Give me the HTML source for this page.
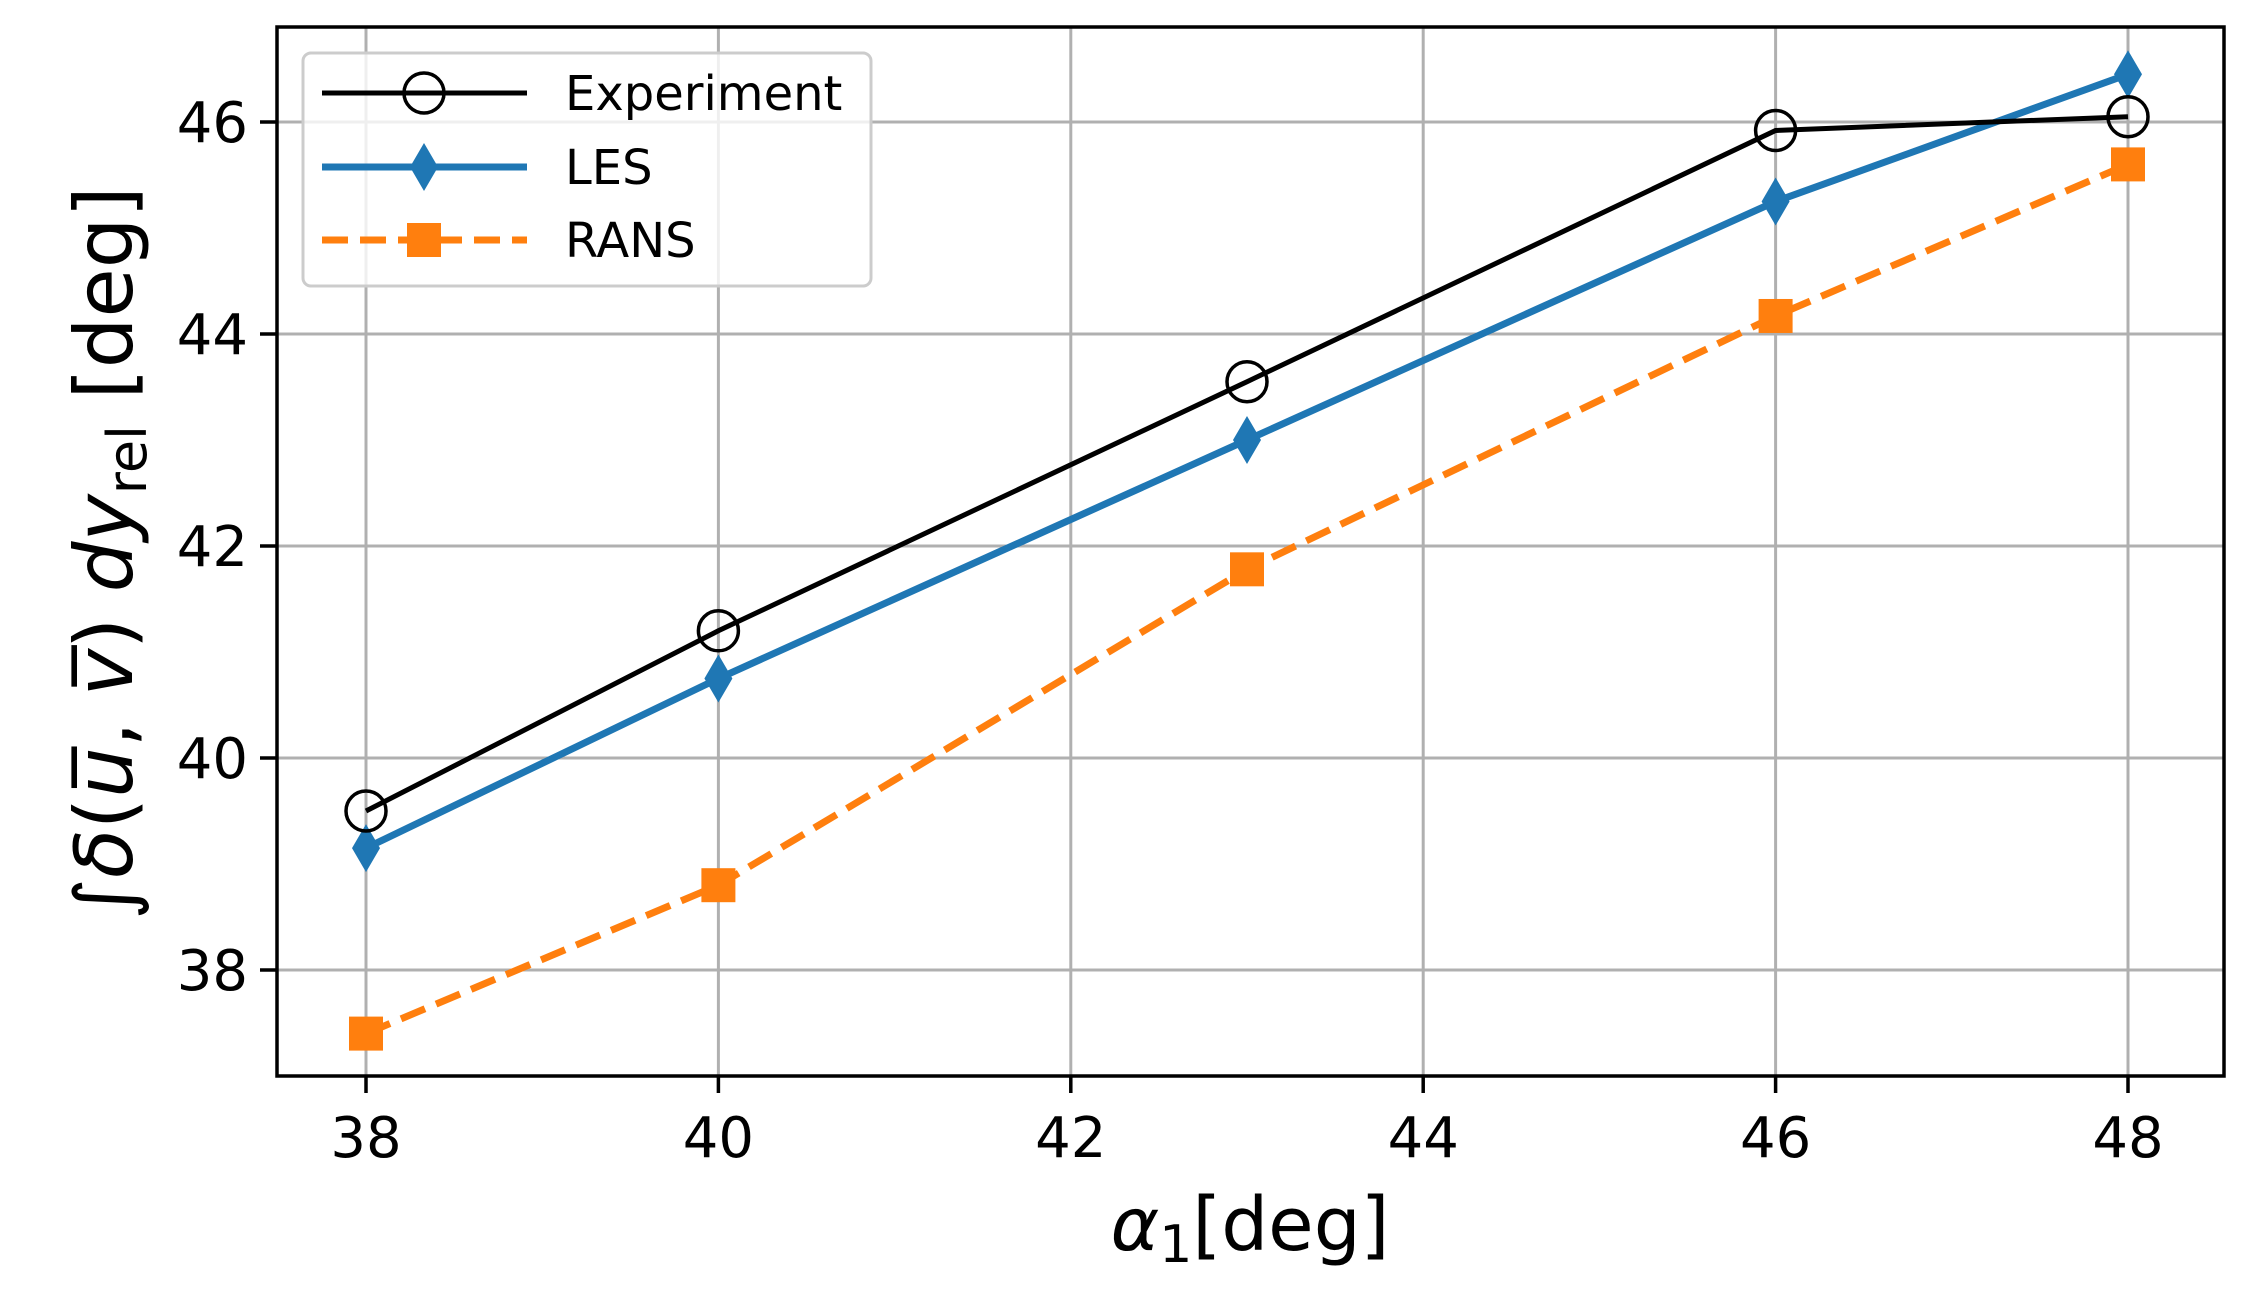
<!DOCTYPE html>
<html><head><meta charset="utf-8"><style>
html,body{margin:0;padding:0;background:#fff}
svg{display:block;font-family:"DejaVu Sans","Liberation Sans",sans-serif}
</style></head><body>
<svg id="chart" width="2242" height="1294" viewBox="0 0 2242 1294" xmlns="http://www.w3.org/2000/svg">
<g id="grid"></g>
<g id="series"></g>
<rect x="277" y="27" width="1947" height="1049" fill="none" stroke="#000" stroke-width="3.5"/>
<g id="ticks"></g>
<text x="1250" y="1250" font-size="74" text-anchor="middle"><tspan font-style="italic">α</tspan><tspan font-size="52" dy="12">1</tspan><tspan dy="-12">[deg]</tspan></text>
<text transform="translate(132,553) rotate(-90)" font-size="80" text-anchor="middle">∫<tspan font-style="italic">δ</tspan>(<tspan font-style="italic">u̅</tspan>, <tspan font-style="italic">v̅</tspan>) <tspan font-style="italic">dy</tspan><tspan font-size="54" dy="14">rel</tspan><tspan dy="-14">  [deg]</tspan></text>
<g>
<rect x="303" y="53" width="568" height="233" rx="8" fill="#fff" fill-opacity="0.8" stroke="#ccc" stroke-width="3"/>
<g>
<line x1="322" y1="93" x2="527" y2="93" stroke="#000" stroke-width="5"/>
<circle cx="424" cy="93" r="20" fill="none" stroke="#000" stroke-width="3.5"/>
<text x="565" y="110" font-size="48">Experiment</text></g>
<g>
<line x1="322" y1="167" x2="527" y2="167" stroke="#1f77b4" stroke-width="7"/>
<polygon points="424,143 438,167 424,191 410,167" fill="#1f77b4"/>
<text x="565" y="184" font-size="48">LES</text></g>
<g>
<line x1="322" y1="240" x2="527" y2="240" stroke="#ff7f0e" stroke-width="7" stroke-dasharray="26,12"/>
<rect x="407" y="223" width="34" height="34" fill="#ff7f0e"/>
<text x="565" y="257" font-size="48">RANS</text></g>
</g>
</svg>
<script>
const xValues=[38,40,43,46,48];
const experiment=[39.5,41.2,43.55,45.92,46.05];
const les=[39.15,40.75,43.0,45.25,46.45];
const rans=[37.4,38.8,41.78,44.17,45.6];
const xTicks=[38,40,42,44,46,48];
const yTicks=[38,40,42,44,46];
const NS='http://www.w3.org/2000/svg';
const sx=v=>366+(v-38)*176.2;
const sy=v=>970-(v-38)*106;
function mk(tag,attrs,parent){const e=document.createElementNS(NS,tag);for(const k in attrs)e.setAttribute(k,attrs[k]);parent.appendChild(e);return e;}
const grid=document.getElementById('grid'),ticks=document.getElementById('ticks'),ser=document.getElementById('series');
xTicks.forEach(t=>{
 const g=mk('line',{x1:sx(t),x2:sx(t),y1:27,y2:1076,stroke:'#b0b0b0','stroke-width':3},grid);
 
 
 const tk=mk('line',{x1:sx(t),x2:sx(t),y1:1076,y2:1093,stroke:'#000','stroke-width':3.5},ticks);
 
 
 const tl=mk('text',{x:sx(t),y:1157,'font-size':56,'text-anchor':'middle'},ticks);tl.textContent=t;
 
 
});
yTicks.forEach(t=>{
 const g=mk('line',{x1:277,x2:2224,y1:sy(t),y2:sy(t),stroke:'#b0b0b0','stroke-width':3},grid);
 
 
 const tk=mk('line',{x1:260,x2:277,y1:sy(t),y2:sy(t),stroke:'#000','stroke-width':3.5},ticks);
 
 
 const tl=mk('text',{x:248,y:sy(t)+20,'font-size':56,'text-anchor':'end'},ticks);tl.textContent=t;
 
 
});
function pts(arr){return arr.map((v,i)=>sx(xValues[i])+','+sy(v)).join(' ');}
let l=mk('polyline',{points:pts(rans),fill:'none',stroke:'#ff7f0e','stroke-width':7,'stroke-dasharray':'26,12'},ser);


rans.forEach((v,i)=>{const m=mk('rect',{x:sx(xValues[i])-17,y:sy(v)-17,width:34,height:34,fill:'#ff7f0e'},ser);
 
 });
l=mk('polyline',{points:pts(les),fill:'none',stroke:'#1f77b4','stroke-width':7},ser);


les.forEach((v,i)=>{const x=sx(xValues[i]),y=sy(v);const m=mk('polygon',{points:`${x},${y-24} ${x+14},${y} ${x},${y+24} ${x-14},${y}`,fill:'#1f77b4'},ser);
 
 });
l=mk('polyline',{points:pts(experiment),fill:'none',stroke:'#000','stroke-width':5},ser);


experiment.forEach((v,i)=>{const m=mk('circle',{cx:sx(xValues[i]),cy:sy(v),r:20,fill:'none',stroke:'#000','stroke-width':3.5},ser);
 
 });
</script>
</body></html>
